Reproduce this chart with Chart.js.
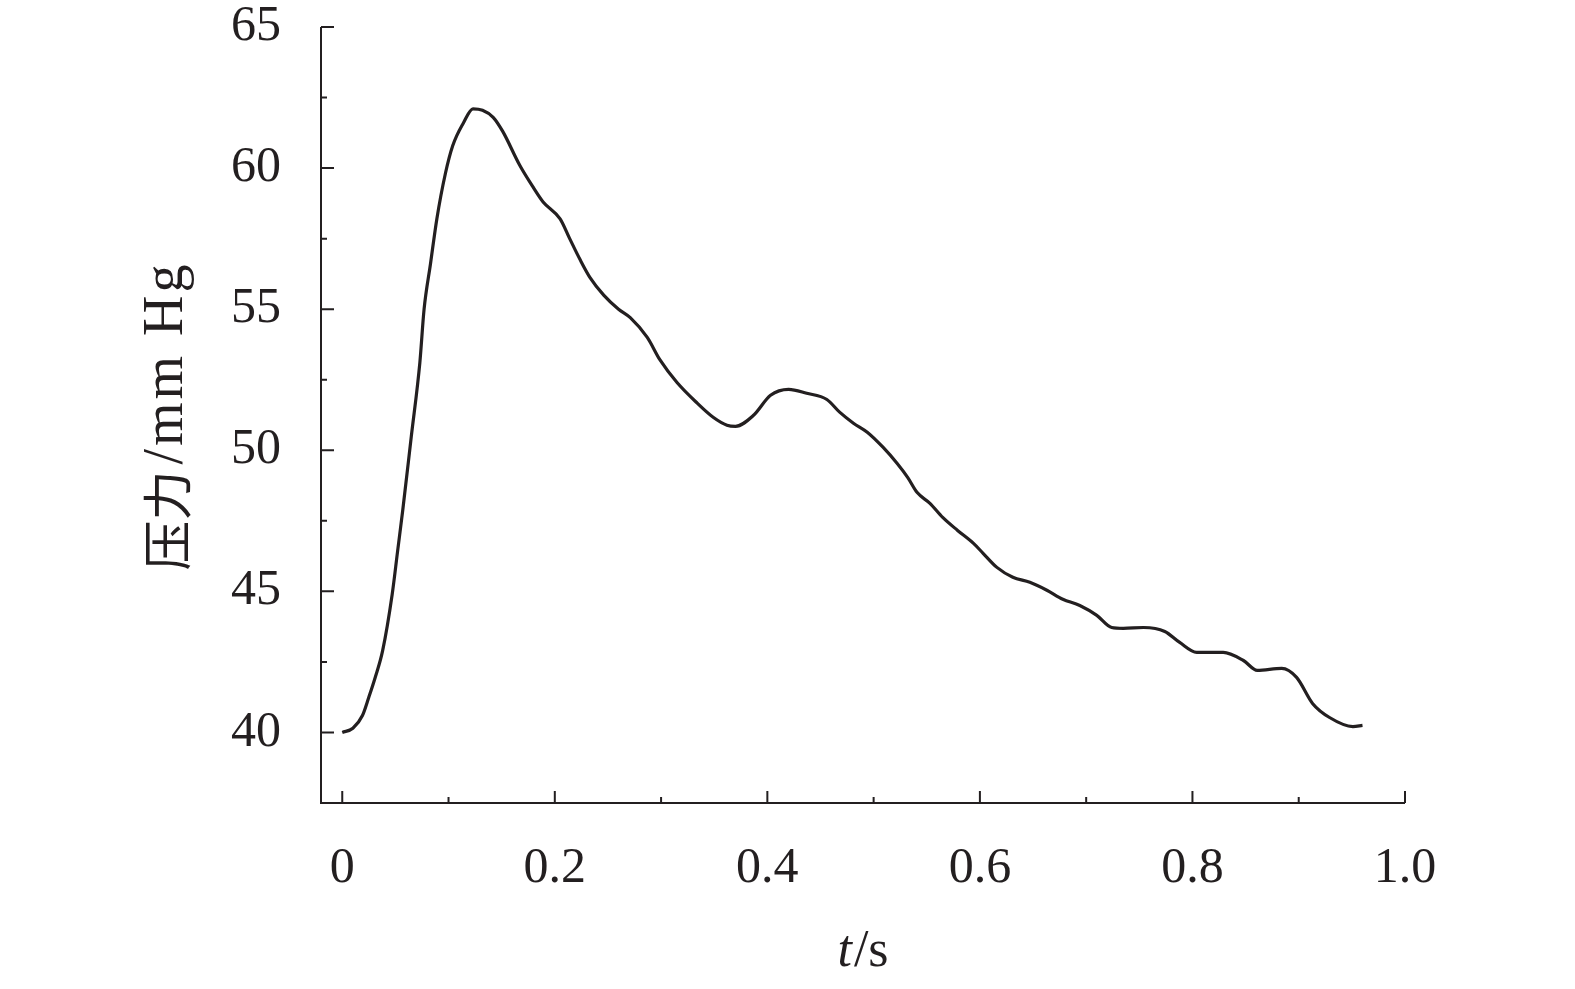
<!DOCTYPE html>
<html>
<head>
<meta charset="utf-8">
<title>压力曲线</title>
<script src="https://cdn.jsdelivr.net/npm/chart.js@4/dist/chart.umd.min.js"></script>
<style>
  html, body { margin: 0; padding: 0; background: #fff; }
  #wrap { width: 1575px; height: 989px; }
</style>
</head>
<body>
<div id="wrap"><canvas id="chart"></canvas></div>
<script>
// time (s) and pressure (mm Hg)
const timeValues = [
  0, 0.01, 0.019, 0.025, 0.031, 0.038, 0.047, 0.052, 0.057, 0.065,
  0.073, 0.077, 0.083, 0.089, 0.097, 0.104, 0.114, 0.123, 0.132, 0.142,
  0.151, 0.167, 0.18, 0.189, 0.205, 0.214, 0.224, 0.233, 0.246, 0.26,
  0.271, 0.287, 0.299, 0.315, 0.334, 0.349, 0.362, 0.37, 0.387, 0.403,
  0.42, 0.437, 0.456, 0.468, 0.481, 0.494, 0.509, 0.522, 0.532, 0.541,
  0.553, 0.565, 0.579, 0.594, 0.603, 0.616, 0.631, 0.647, 0.663, 0.678,
  0.694, 0.71, 0.724, 0.735, 0.754, 0.774, 0.788, 0.804, 0.829, 0.848,
  0.861, 0.884, 0.898, 0.913, 0.929, 0.951, 0.96
];
const pressureValues = [
  40.0, 40.15, 40.6, 41.25, 41.95, 42.9, 44.9, 46.4, 47.9, 50.5,
  53.1, 55.0, 56.6, 58.2, 59.8, 60.8, 61.6, 62.1, 62.05, 61.8,
  61.3, 60.1, 59.3, 58.8, 58.2, 57.5, 56.74, 56.13, 55.5, 55.0,
  54.7, 54.0, 53.2, 52.4, 51.67, 51.17, 50.89, 50.85, 51.24, 51.95,
  52.16, 52.02, 51.8, 51.35, 50.96, 50.64, 50.1, 49.54, 49.04, 48.5,
  48.12, 47.62, 47.16, 46.7, 46.35, 45.85, 45.5, 45.32, 45.04, 44.72,
  44.5, 44.15, 43.72, 43.69, 43.72, 43.58, 43.19, 42.84, 42.84, 42.55,
  42.2, 42.27, 41.95, 41.03, 40.53, 40.21, 40.25
];

// tick values
const xMajorTicks = [0, 0.2, 0.4, 0.6, 0.8, 1.0];
const xMinorTicks = [0.1, 0.3, 0.5, 0.7, 0.9];
const yMajorTicks = [40, 45, 50, 55, 60, 65];
const yMinorTicks = [42.5, 47.5, 52.5, 57.5, 62.5];

const ink = '#231f20';
const serif = '"Liberation Serif", "Times New Roman", "Noto Sans CJK SC", serif';
const cjk = '"Noto Sans CJK SC", sans-serif';

// axis lines, inward ticks and axis titles
const axesPlugin = {
  id: 'axes',
  afterDraw(chart) {
    const { ctx, chartArea: a, scales: { x, y } } = chart;
    ctx.save();
    ctx.strokeStyle = ink;
    ctx.lineWidth = 2;
    ctx.beginPath();
    ctx.moveTo(a.left, a.top);
    ctx.lineTo(a.left, a.bottom);
    ctx.lineTo(a.right, a.bottom);
    xMajorTicks.forEach(v => {
      const px = x.getPixelForValue(v);
      ctx.moveTo(px, a.bottom); ctx.lineTo(px, a.bottom - 12);
    });
    xMinorTicks.forEach(v => {
      const px = x.getPixelForValue(v);
      ctx.moveTo(px, a.bottom); ctx.lineTo(px, a.bottom - 6);
    });
    yMajorTicks.forEach(v => {
      const py = y.getPixelForValue(v);
      ctx.moveTo(a.left, py); ctx.lineTo(a.left + 13, py);
    });
    yMinorTicks.forEach(v => {
      const py = y.getPixelForValue(v);
      ctx.moveTo(a.left, py); ctx.lineTo(a.left + 6, py);
    });
    ctx.stroke();

    // x title: italic t, upright /s
    ctx.fillStyle = ink;
    ctx.textBaseline = 'middle';
    ctx.textAlign = 'left';
    const fItalic = 'italic 52px ' + serif;
    const fRoman = '52px ' + serif;
    ctx.font = fItalic;
    const wt = ctx.measureText('t').width;
    ctx.font = fRoman;
    const ws = ctx.measureText('/s').width;
    const sx = (a.left + a.right) / 2 - (wt + ws + 2) / 2;
    ctx.font = fItalic;
    ctx.fillText('t', sx, 952);
    ctx.font = fRoman;
    ctx.fillText('/s', sx + wt + 2, 952);

    // y title: CJK part and unit part
    const fCjk = '50px ' + cjk;
    const fUnit = '56px ' + serif;
    ctx.font = fCjk;
    const w1 = ctx.measureText('压力').width;
    ctx.font = fUnit;
    ctx.letterSpacing = '3px';
    const w2 = ctx.measureText('/mm Hg').width;
    const gap = 6;
    ctx.translate(167, 416);
    ctx.rotate(-Math.PI / 2);
    const start = -(w1 + gap + w2) / 2;
    ctx.fillText('/mm Hg', start + w1 + gap, 0);
    ctx.letterSpacing = '0px';
    ctx.font = fCjk;
    ctx.fillText('压力', start, 0);
    ctx.restore();
  }
};

const points = timeValues.map((t, i) => ({ x: t, y: pressureValues[i] }));

new Chart(document.getElementById('chart'), {
  type: 'line',
  data: {
    datasets: [{
      data: points,
      borderColor: ink,
      borderWidth: 3.2,
      pointRadius: 0,
      fill: false,
      cubicInterpolationMode: 'monotone'
    }]
  },
  options: {
    responsive: true,
    maintainAspectRatio: false,
    animation: false,
    layout: { padding: { left: 0, top: 27, right: 170, bottom: 0 } },
    plugins: { legend: { display: false }, tooltip: { enabled: false } },
    scales: {
      x: {
        type: 'linear',
        min: -0.02,
        max: 1.0,
        grid: { display: false, drawTicks: false },
        border: { display: false },
        afterBuildTicks: s => { s.ticks = xMajorTicks.map(v => ({ value: v })); },
        afterFit: s => { s.height = 186; s.paddingLeft = 0; s.paddingRight = 0; },
        ticks: {
          color: ink,
          font: { family: serif, size: 50 },
          padding: 36,
          maxRotation: 0,
          callback: v => (v === 0 ? '0' : v.toFixed(1))
        }
      },
      y: {
        type: 'linear',
        min: 37.5,
        max: 65,
        grid: { display: false, drawTicks: false },
        border: { display: false },
        afterBuildTicks: s => { s.ticks = yMajorTicks.map(v => ({ value: v })); },
        afterFit: s => { s.width = 321; s.paddingTop = 0; s.paddingBottom = 0; },
        ticks: {
          color: ink,
          font: { family: serif, size: 50 },
          padding: 40,
          callback: v => String(v)
        }
      }
    }
  },
  plugins: [axesPlugin]
});
</script>
</body>
</html>
